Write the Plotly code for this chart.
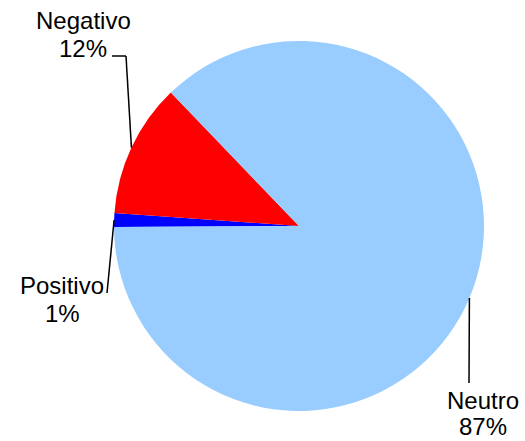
import math
import plotly.graph_objects as go

# Data
categories = ["Positivo", "Negativo", "Neutro"]
values = [1.2, 11.7, 87.1]
pct_labels = ["1%", "12%", "87%"]
colors = ["#0000FF", "#FF0000", "#99CCFF"]

W, H = 525, 441
CX, CY, R = 299, 226, 185   # pie center / radius in px
ROT = 269.7                 # clockwise degrees from 12 o'clock

def px(x, y):
    return x / W, 1 - y / H

fig = go.Figure(go.Pie(
    labels=categories, values=values, sort=False, direction="clockwise",
    rotation=ROT, marker=dict(colors=colors, line=dict(width=0)),
    textinfo="none", hoverinfo="label+percent", showlegend=False,
    domain=dict(x=[(CX - R) / W, (CX + R) / W], y=[1 - (CY + R) / H, 1 - (CY - R) / H]),
))

# label layout (pixel positions: x center, y center of name line; percent line 28px below)
label_pos = {"Negativo": (83, 20.5), "Positivo": (62, 285), "Neutro": (483, 400)}
LINE_GAP = 28
leader_path = {"Negativo": [(126, 56), (112, 56)],
               "Positivo": [(107, 293)],
               "Neutro": [(469, 383)]}

font = dict(family="Liberation Sans, Arial", size=24, color="black")
total = sum(values)
cum = 0
shapes, annotations = [], []
for cat, v, p in zip(categories, values, pct_labels):
    mid = ROT + (cum + v / 2) / total * 360
    cum += v
    a = math.radians(mid)
    sx, sy = CX + R * math.sin(a), CY - R * math.cos(a)
    pts = [(sx, sy)] + leader_path[cat]
    for (x0, y0), (x1, y1) in zip(pts[:-1], pts[1:]):
        X0, Y0 = px(x0, y0)
        X1, Y1 = px(x1, y1)
        shapes.append(dict(type="line", xref="paper", yref="paper", x0=X0, y0=Y0, x1=X1, y1=Y1,
                           line=dict(color="black", width=1.5)))
    lx, ly = label_pos[cat]
    for txt, yy in ((cat, ly), (p, ly + LINE_GAP)):
        tx, ty = px(lx, yy)
        anchor = "middle"
        if yy + 16 > H:          # keep the bottom label inside the page
            ty, anchor = 0, "bottom"
        annotations.append(dict(x=tx, y=ty, xref="paper", yref="paper", text=txt,
                                showarrow=False, xanchor="center", yanchor=anchor,
                                borderpad=0, font=font))

fig.update_layout(width=W, height=H, margin=dict(l=0, r=0, t=0, b=0),
                  paper_bgcolor="white", plot_bgcolor="white",
                  shapes=shapes, annotations=annotations)
fig.write_html("out.html", config={"displayModeBar": False},
               post_script="document.body.style.margin='0';document.body.style.overflow='hidden';")
